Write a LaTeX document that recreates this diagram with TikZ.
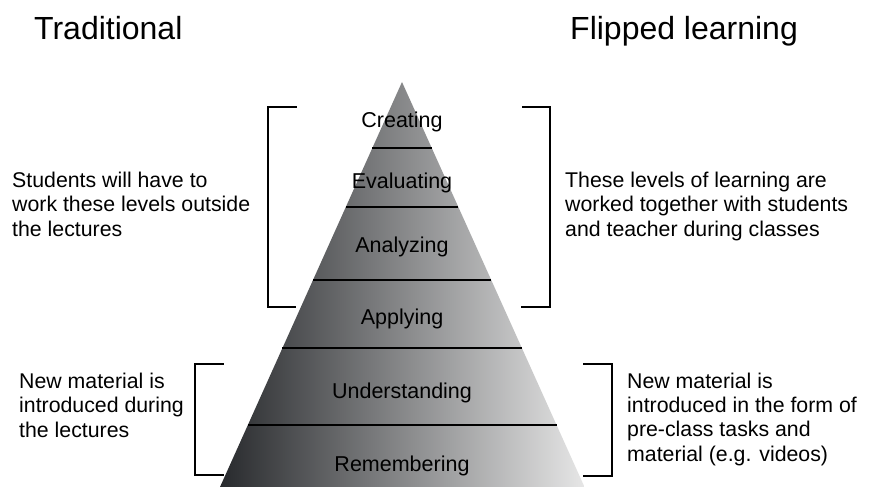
\documentclass[tikz,border=0pt]{standalone}
\usepackage{fontspec}
\setmainfont{Liberation Sans}
\usetikzlibrary{calc}
\definecolor{pyrdark}{RGB}{40,42,45}
\definecolor{pyrlight}{RGB}{230,230,230}
\begin{document}
\begin{tikzpicture}[x=1pt,y=-1pt,
  heading/.style={font=\fontsize{32}{38}\selectfont, anchor=base west, inner sep=0pt},
  level/.style={font=\fontsize{21.5}{24}\selectfont, anchor=base, inner sep=0pt},
  % multi-line notes are placed by the baseline of their last line
  note/.style={font=\fontsize{21.3}{24.3}\selectfont, align=left, anchor=base west, inner sep=0pt},
  bracket/.style={line width=2pt, line cap=rect},
  divider/.style={line width=2pt}]
\useasboundingbox[fill=white] (0,0) rectangle (873,487);

% pyramid with horizontal grey gradient
\coordinate (apex) at (402,82);
\coordinate (bl) at (220,487);
\coordinate (br) at (584.5,487);
\shade[left color=pyrdark, right color=pyrlight] (apex) -- (br) -- (bl) -- cycle;

% level dividers
\foreach \t in {0.163,0.3086,0.4889,0.6568,0.8469}
  \draw[divider] ($(apex)!\t!(bl)$) -- ($(apex)!\t!(br)$);

% level labels
\node[level] (creating) at (402,128) {Creating};
\node[level] (evaluating) at (402,188) {Evaluating};
\node[level] (analyzing) at (402,252) {Analyzing};
\node[level] (applying) at (402,324) {Applying};
\node[level] (understanding) at (402,398) {Understanding};
\node[level] (remembering) at (402,471) {Remembering};

% headings
\node[heading] (trad) at (34,40) {Traditional};
\node[heading] (flip) at (570,40) {Flipped learning};

% brackets
\draw[bracket] (296,107) -- (268,107) -- (268,307) -- (295,307);
\draw[bracket] (523,107) -- (550,107) -- (550,307) -- (522,307);
\draw[bracket] (223,364) -- (195,364) -- (195,475) -- (223,475);
\draw[bracket] (584,364) -- (612,364) -- (612,476) -- (584,476);

% side notes
\node[note] (outside) at (12,236) {Students will have to\\work these levels outside\\the lectures};
\node[note] (together) at (565,236) {These levels of learning are\\worked together with students\\and teacher during classes};
\node[note] (lectures) at (19,437) {New material is\\introduced during\\the lectures};
\node[note] (preclass) at (627,461) {New material is\\introduced in the form of\\pre-class tasks and\\material (e.g. videos)};
\end{tikzpicture}
\end{document}
